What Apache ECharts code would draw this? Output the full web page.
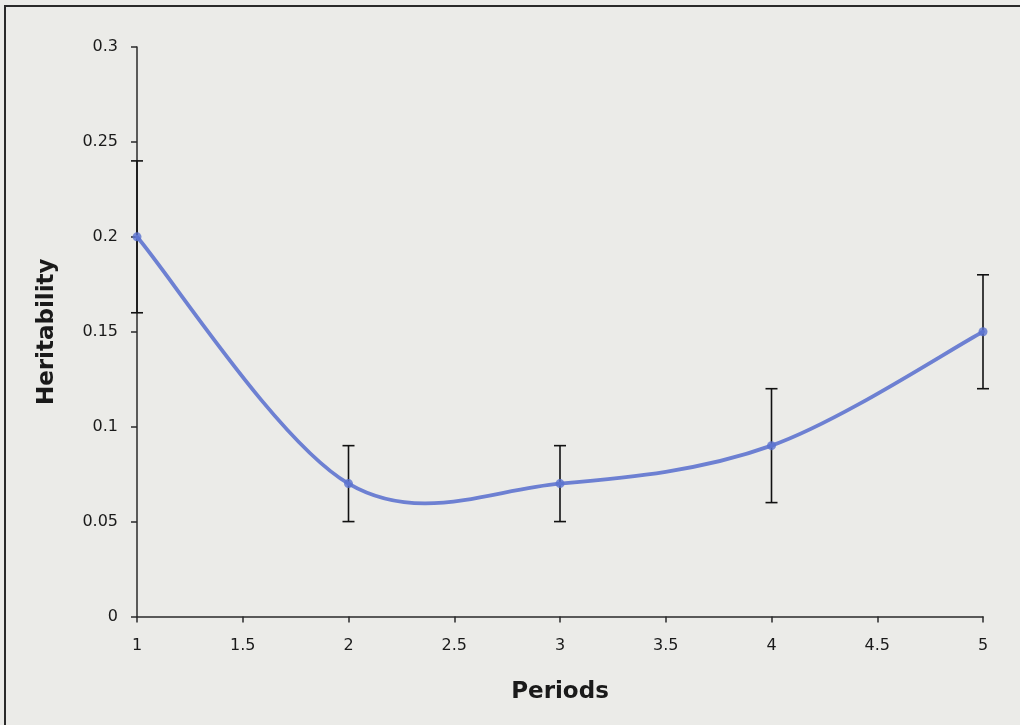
<!DOCTYPE html>
<html>
<head>
<meta charset="utf-8">
<script src="https://cdn.jsdelivr.net/npm/echarts@6/dist/echarts.min.js"></script>
<style>
  html, body { margin: 0; padding: 0; background: #ebebe8; }
  #chart { width: 1020px; height: 725px; }
</style>
</head>
<body>
<div id="chart"></div>
<script>
// Heritability estimates per period, with standard-error ranges
const periods = [1, 2, 3, 4, 5];
const heritability = [0.20, 0.07, 0.07, 0.09, 0.15];
const errLow = [0.16, 0.05, 0.05, 0.06, 0.12];
const errHigh = [0.24, 0.09, 0.09, 0.12, 0.18];

const xTicks = { min: 1, max: 5, interval: 0.5 };
const yTicks = { min: 0, max: 0.3, interval: 0.05 };

const linePoints = periods.map((p, i) => [p, heritability[i]]);
const errorRanges = periods.map((p, i) => [p, errLow[i], errHigh[i]]);

const chart = echarts.init(document.getElementById('chart'), null, { renderer: 'canvas' });

const font = 'DejaVu Sans, Verdana, sans-serif';
const lineColor = '#6d80d2';

// Catmull-Rom style smoothing (spreadsheet-like curve), one cubic segment per item
function renderCurveSegment(params, api) {
  const i = params.dataIndex;
  if (i >= linePoints.length - 1) return null;
  const pt = k => api.coord(linePoints[Math.max(0, Math.min(linePoints.length - 1, k))]);
  const p0 = pt(i - 1), p1 = pt(i), p2 = pt(i + 1), p3 = pt(i + 2);
  const c1 = [p1[0] + (p2[0] - p0[0]) / 6, p1[1] + (p2[1] - p0[1]) / 6];
  const c2 = [p2[0] - (p3[0] - p1[0]) / 6, p2[1] - (p3[1] - p1[1]) / 6];
  return {
    type: 'bezierCurve',
    shape: { x1: p1[0], y1: p1[1], x2: p2[0], y2: p2[1], cpx1: c1[0], cpy1: c1[1], cpx2: c2[0], cpy2: c2[1] },
    style: { stroke: lineColor, lineWidth: 3.8, fill: 'none', lineCap: 'round' }
  };
}

chart.setOption({
  backgroundColor: '#ebebe8',
  animation: false,
  graphic: [{
    type: 'rect',
    shape: { x: 5, y: 6, width: 1040, height: 740 },
    style: { fill: 'none', stroke: '#2a2a2a', lineWidth: 2 },
    z: 100
  }],
  grid: { left: 137, right: 37, top: 47, bottom: 108.5 },
  xAxis: {
    type: 'value',
    min: xTicks.min, max: xTicks.max, interval: xTicks.interval,
    name: 'Periods',
    nameLocation: 'middle',
    nameGap: 64,
    nameTextStyle: { fontFamily: font, fontWeight: 'bold', fontSize: 23, color: '#1a1a1a' },
    axisLine: { lineStyle: { color: '#2a2a2a', width: 1.5 } },
    axisTick: { show: true, length: 6, lineStyle: { color: '#2a2a2a', width: 1.5 } },
    axisLabel: { fontFamily: font, fontSize: 16, color: '#1a1a1a', margin: 21 },
    splitLine: { show: false }
  },
  yAxis: {
    type: 'value',
    min: yTicks.min, max: yTicks.max, interval: yTicks.interval,
    name: 'Heritability',
    nameLocation: 'middle',
    nameGap: 78,
    nameRotate: 90,
    nameTextStyle: { fontFamily: font, fontWeight: 'bold', fontSize: 23, color: '#1a1a1a' },
    axisLine: { show: true, lineStyle: { color: '#2a2a2a', width: 1.5 } },
    axisTick: { show: true, length: 6, lineStyle: { color: '#2a2a2a', width: 1.5 } },
    axisLabel: { fontFamily: font, fontSize: 16, color: '#1a1a1a', margin: 19 },
    splitLine: { show: false }
  },
  series: [
    {
      type: 'custom',
      data: errorRanges,
      z: 3,
      renderItem: function (params, api) {
        const x = api.value(0);
        const lo = api.coord([x, api.value(1)]);
        const hi = api.coord([x, api.value(2)]);
        const half = 6;
        const style = { stroke: '#111', lineWidth: 1.6 };
        return {
          type: 'group',
          children: [
            { type: 'line', shape: { x1: hi[0], y1: hi[1], x2: lo[0], y2: lo[1] }, style: style },
            { type: 'line', shape: { x1: hi[0] - half, y1: hi[1], x2: hi[0] + half, y2: hi[1] }, style: style },
            { type: 'line', shape: { x1: lo[0] - half, y1: lo[1], x2: lo[0] + half, y2: lo[1] }, style: style }
          ]
        };
      }
    },
    {
      type: 'custom',
      data: linePoints,
      z: 4,
      renderItem: renderCurveSegment
    },
    {
      type: 'scatter',
      data: linePoints,
      z: 5,
      symbol: 'circle',
      symbolSize: 9,
      itemStyle: { color: '#5a72cf' }
    }
  ]
});
</script>
</body>
</html>
